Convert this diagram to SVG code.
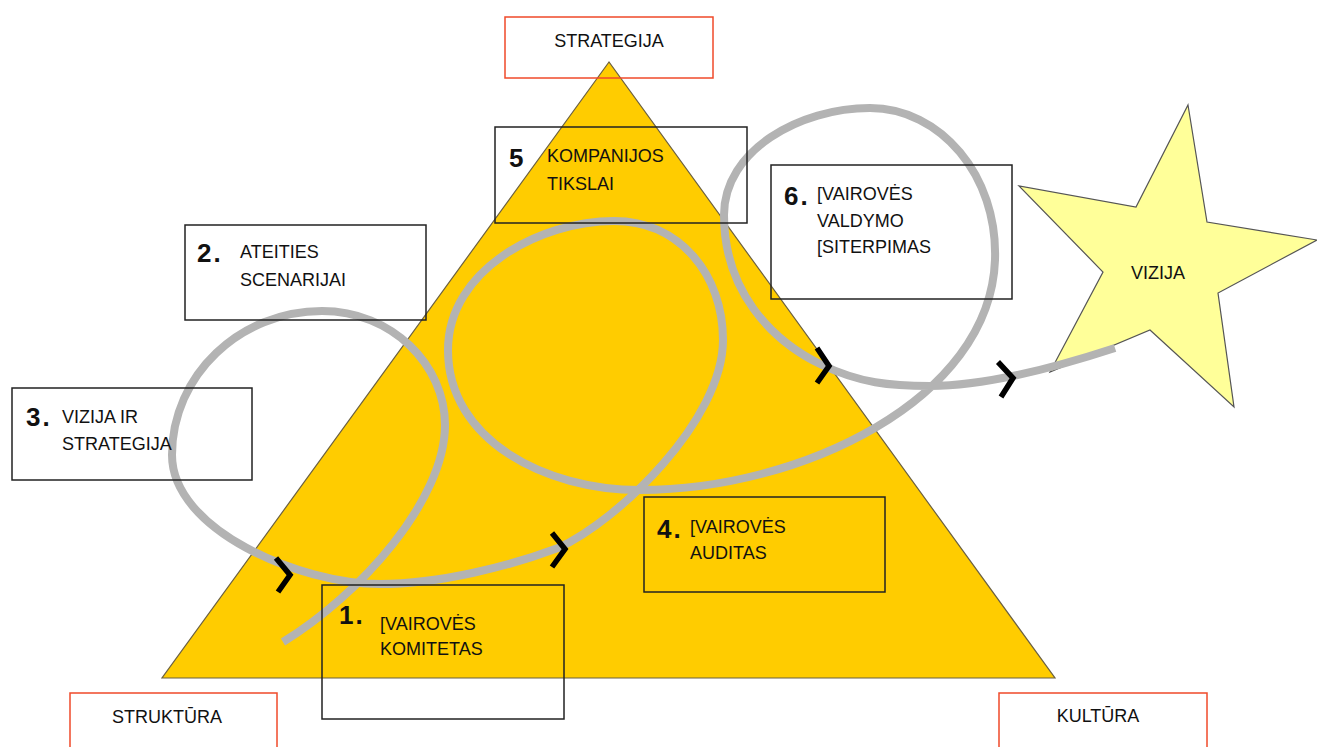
<svg xmlns="http://www.w3.org/2000/svg" width="1317" height="747" viewBox="0 0 1317 747">
<style>
.box{fill:none;stroke:#222;stroke-width:1.5}
.rbox{fill:none;stroke:#f04a2a;stroke-width:1.5}
.t{font-family:"Liberation Sans",Arial,sans-serif;font-size:18px;fill:#111}
.n{font-family:"Liberation Sans",Arial,sans-serif;font-size:26px;font-weight:bold;fill:#111;letter-spacing:2px}
.curve{fill:none;stroke:#b3b3b3;stroke-width:8}
.chev{fill:none;stroke:#000;stroke-width:5.5;stroke-linejoin:miter}
</style>
<rect width="1317" height="747" fill="#fff"/>
<g id="triangle">
<polygon points="609,62 162,678 1055,678" fill="#ffcc00" stroke="#6b6040" stroke-width="1.2"/>
</g>
<g id="star">
<polygon points="1188,105 1207,222 1317,240 1218,293 1234,407 1150,330 1050,372 1103,272 1019,186 1136,207" fill="#ffff99" stroke="#555" stroke-width="1.2"/>
<text class="t" x="1158" y="279" text-anchor="middle">VIZIJA</text>
</g>
<g id="connectors">
<path class="curve" d="M283,642 C360,595 445,500 445,425 C445,365 392,311 322,311 C240,311 172,375 172,455 C172,530 300,584 380,584 C440,584 510,566 558,548 C618,521 723,420 723,340 C723,275 680,221 614,221 C540,221 448,270 448,350 C448,440 545,490 640,490 C800,490 990,400 995,260 C998,175 940,108 870,108 C800,108 724,150 724,215 C724,290 770,340 822,365 C860,383 890,386 930,386 C990,386 1060,366 1115,348"/>
<polyline class="chev" points="276,558 290,575 278,592"/>
<polyline class="chev" points="552,533 565,549 552,567"/>
<polyline class="chev" points="817,348 829,366 817,383"/>
<polyline class="chev" points="998,362 1013,378 1001,397"/>
</g>
<g id="strategija">
<rect class="rbox" x="505" y="17" width="208" height="61"/>
<text class="t" x="609" y="47" text-anchor="middle">STRATEGIJA</text>
</g>
<g id="node5">
<rect class="box" x="495" y="127" width="252" height="96"/>
<text class="n" x="509" y="167">5</text>
<text class="t" x="547" y="162">KOMPANIJOS</text>
<text class="t" x="547" y="190">TIKSLAI</text>
</g>
<g id="node6">
<rect class="box" x="771" y="165" width="241" height="134"/>
<text class="n" x="784" y="205">6.</text>
<text class="t" x="817" y="200">[VAIROVĖS</text>
<text class="t" x="817" y="227">VALDYMO</text>
<text class="t" x="817" y="253">[SITERPIMAS</text>
</g>
<g id="node2">
<rect class="box" x="185" y="225" width="241" height="95"/>
<text class="n" x="197" y="262">2.</text>
<text class="t" x="240" y="258">ATEITIES</text>
<text class="t" x="240" y="286">SCENARIJAI</text>
</g>
<g id="node3">
<rect class="box" x="12" y="388" width="240" height="92"/>
<text class="n" x="26" y="426">3.</text>
<text class="t" x="62" y="423">VIZIJA IR</text>
<text class="t" x="62" y="450">STRATEGIJA</text>
</g>
<g id="node4">
<rect class="box" x="644" y="497" width="241" height="95"/>
<text class="n" x="657" y="538">4.</text>
<text class="t" x="690" y="533">[VAIROVĖS</text>
<text class="t" x="690" y="559">AUDITAS</text>
</g>
<g id="node1">
<rect class="box" x="322" y="585" width="242" height="134"/>
<text class="n" x="339" y="624">1.</text>
<text class="t" x="380" y="630">[VAIROVĖS</text>
<text class="t" x="380" y="655">KOMITETAS</text>
</g>
<g id="struktura">
<rect class="rbox" x="70" y="693" width="207" height="70"/>
<text class="t" x="167" y="723" text-anchor="middle">STRUKTŪRA</text>
</g>
<g id="kultura">
<rect class="rbox" x="999" y="693" width="208" height="70"/>
<text class="t" x="1098" y="722" text-anchor="middle">KULTŪRA</text>
</g>
</svg>
